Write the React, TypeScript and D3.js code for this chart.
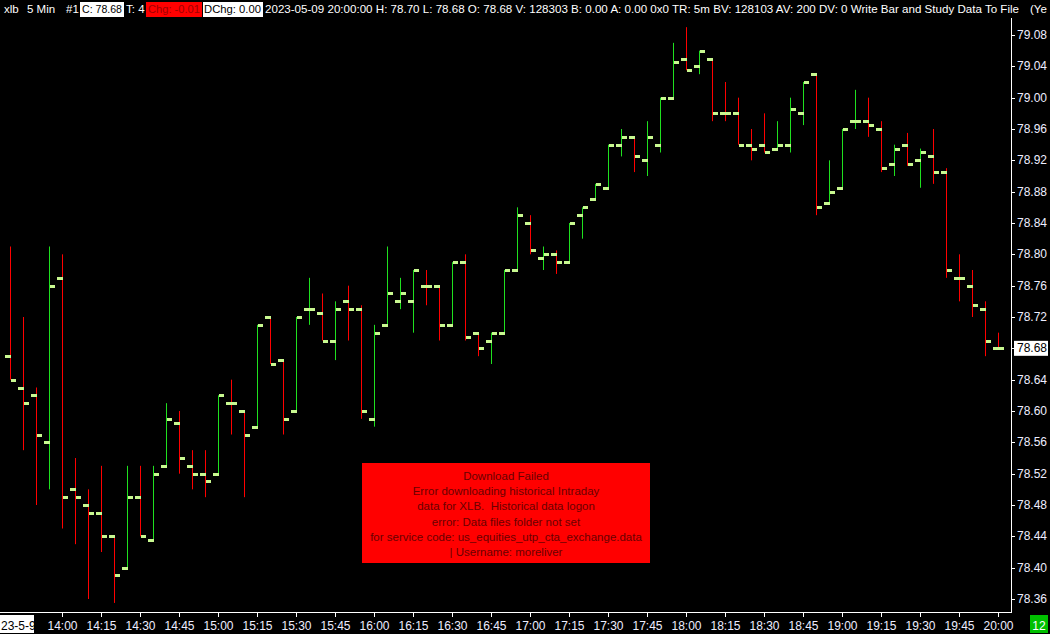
import * as d3 from "d3";

// 5 min bars, xlb, 2023-05-09
const times = [
  "13:40", "13:45", "13:50", "13:55",
  "14:00", "14:05", "14:10", "14:15", "14:20", "14:25", "14:30", "14:35", "14:40", "14:45", "14:50", "14:55",
  "15:00", "15:05", "15:10", "15:15", "15:20", "15:25", "15:30", "15:35", "15:40", "15:45", "15:50", "15:55",
  "16:00", "16:05", "16:10", "16:15", "16:20", "16:25", "16:30", "16:35", "16:40", "16:45", "16:50", "16:55",
  "17:00", "17:05", "17:10", "17:15", "17:20", "17:25", "17:30", "17:35", "17:40", "17:45", "17:50", "17:55",
  "18:00", "18:05", "18:10", "18:15", "18:20", "18:25", "18:30", "18:35", "18:40", "18:45", "18:50", "18:55",
  "19:00", "19:05", "19:10", "19:15", "19:20", "19:25", "19:30", "19:35", "19:40", "19:45", "19:50", "19:55",
  "20:00",
];

const opens = [
  78.67, 78.63, 78.62, 78.56, 78.77, 78.5, 78.48, 78.47, 78.44, 78.4, 78.49, 78.435, 78.53, 78.585, 78.53, 78.52,
  78.52, 78.61, 78.6, 78.58, 78.72, 78.665, 78.6, 78.73, 78.725, 78.69, 78.74, 78.73, 78.59, 78.71, 78.74, 78.74,
  78.76, 78.76, 78.71, 78.79, 78.7, 78.69, 78.7, 78.78, 78.84, 78.795, 78.8, 78.79, 78.85, 78.87, 78.885, 78.94,
  78.95, 78.92, 78.94, 79.0, 79.05, 79.04, 79.05, 78.98, 78.98, 78.94, 78.94, 78.935, 78.94, 78.98, 79.03, 78.865,
  78.885, 78.97, 78.97, 78.96, 78.915, 78.94, 78.92, 78.925, 78.905, 78.77, 78.76, 78.73, 78.68,
];
const highs = [
  78.81, 78.72, 78.63, 78.81, 78.8, 78.54, 78.5, 78.53, 78.44, 78.53, 78.53, 78.53, 78.61, 78.6, 78.55, 78.55,
  78.62, 78.64, 78.6, 78.71, 78.72, 78.665, 78.72, 78.77, 78.75, 78.74, 78.76, 78.735, 78.71, 78.81, 78.77, 78.78,
  78.78, 78.76, 78.79, 78.8, 78.7, 78.7, 78.78, 78.86, 78.85, 78.81, 78.805, 78.84, 78.86, 78.89, 78.94, 78.96,
  78.95, 78.97, 79.0, 79.07, 79.09, 79.06, 79.05, 79.02, 79.0, 78.96, 78.98, 78.97, 79.0, 79.02, 79.03, 78.92,
  78.96, 79.01, 79.0, 78.97, 78.94, 78.955, 78.935, 78.96, 78.91, 78.8, 78.78, 78.74, 78.7,
];
const lows = [
  78.64, 78.55, 78.48, 78.5, 78.45, 78.43, 78.36, 78.42, 78.355, 78.4, 78.44, 78.435, 78.53, 78.52, 78.5, 78.49,
  78.52, 78.57, 78.49, 78.58, 78.66, 78.57, 78.6, 78.71, 78.69, 78.665, 78.69, 78.59, 78.58, 78.71, 78.73, 78.7,
  78.735, 78.69, 78.71, 78.69, 78.67, 78.66, 78.7, 78.78, 78.8, 78.78, 78.775, 78.79, 78.82, 78.87, 78.885, 78.925,
  78.905, 78.9, 78.93, 79.0, 79.035, 79.03, 78.97, 78.97, 78.94, 78.92, 78.93, 78.935, 78.93, 78.965, 78.85, 78.865,
  78.885, 78.96, 78.95, 78.905, 78.9, 78.913, 78.885, 78.89, 78.77, 78.74, 78.72, 78.67, 78.68,
];
const closes = [
  78.64, 78.61, 78.57, 78.76, 78.49, 78.49, 78.47, 78.44, 78.39, 78.49, 78.44, 78.52, 78.59, 78.54, 78.52, 78.51,
  78.62, 78.61, 78.57, 78.71, 78.66, 78.59, 78.72, 78.73, 78.69, 78.73, 78.73, 78.6, 78.7, 78.75, 78.75, 78.78,
  78.76, 78.71, 78.79, 78.695, 78.68, 78.7, 78.78, 78.85, 78.805, 78.8, 78.79, 78.84, 78.86, 78.89, 78.94, 78.95,
  78.925, 78.95, 79.0, 79.045, 79.035, 79.06, 78.98, 78.98, 78.94, 78.935, 78.93, 78.94, 78.985, 79.02, 78.86, 78.88,
  78.96, 78.97, 78.965, 78.91, 78.935, 78.915, 78.93, 78.905, 78.78, 78.77, 78.735, 78.69, 78.68,
];

const timeLabels = [
  "14:00", "14:15", "14:30", "14:45", "15:00", "15:15", "15:30", "15:45", "16:00", "16:15", "16:30", "16:45",
  "17:00", "17:15", "17:30", "17:45", "18:00", "18:15", "18:30", "18:45", "19:00", "19:15", "19:30", "19:45", "20:00",
];
const priceTicks = [
  78.36, 78.4, 78.44, 78.48, 78.52, 78.56, 78.6, 78.64, 78.68, 78.72, 78.76, 78.8, 78.84, 78.88, 78.92, 78.96, 79.0, 79.04, 79.08,
];
const lastPrice = 78.68;

const errorLines = [
  "Download Failed",
  "Error downloading historical Intraday",
  "data for XLB.  Historical data logon",
  "error: Data files folder not set",
  "for service code: us_equities_utp_cta_exchange.data",
  "| Username: moreliver",
];

const W = 1050;
const H = 634;
const UP = "#1fe01f";
const DOWN = "#ff0000";
const TICK = "#c8f890";
const FONT = "'Liberation Sans', Arial, sans-serif";
const NARROW = "'Liberation Sans Narrow', 'Liberation Sans', Arial, sans-serif";

export default function App() {
  const x = d3.scalePoint<string>().domain(times).range([10, 998]);
  const y = d3.scaleLinear().domain([78.36, 79.08]).range([599, 35]);

  const bars = times.map((t, i) => {
    const o = opens[i], c = closes[i];
    let up = c > o;
    if (c === o) up = i > 0 && c > closes[i - 1];
    return { t, o, h: highs[i], l: lows[i], c, up };
  });

  return (
    <>
      <style>{`body{margin:0;background:#000;}`}</style>
      <svg width={W} height={H} style={{ display: "block", background: "#000" }}>
        <rect width={W} height={H} fill="#000" />

        {/* header */}
        <g fontFamily={FONT} fontSize={11.5} fill="#fff">
          <text x={4} y={13}>xlb</text>
          <text x={27} y={13}>5 Min</text>
          <text x={66} y={13}>#1</text>
          <rect x={80} y={2} width={44} height={15} fill="#fff" />
          <text x={82} y={13} fill="#000" textLength={40} lengthAdjust="spacingAndGlyphs">C: 78.68</text>
          <text x={126} y={13}>T: 4</text>
          <rect x={146} y={2} width={56} height={15} fill="#ff0000" />
          <text x={148} y={13} fill="#a00000" textLength={52} lengthAdjust="spacingAndGlyphs">Chg: -0.01</text>
          <rect x={203} y={2} width={60} height={15} fill="#fff" />
          <text x={204} y={13} fill="#000" textLength={57} lengthAdjust="spacingAndGlyphs">DChg: 0.00</text>
          <text x={265} y={13} textLength={754} lengthAdjust="spacingAndGlyphs">
            2023-05-09 20:00:00 H: 78.70 L: 78.68 O: 78.68 V: 128303 B: 0.00 A: 0.00 0x0 TR: 5m BV: 128103 AV: 200 DV: 0 Write Bar and Study Data To File
          </text>
          <text x={1030} y={13}>(Ye</text>
        </g>

        {/* bars */}
        <g>
          {bars.map((b) => {
            const cx = x(b.t) as number;
            return (
              <g key={b.t}>
                <rect x={cx} y={y(b.h)} width={1} height={Math.max(1, y(b.l) - y(b.h))} fill={b.up ? UP : DOWN} />
                <rect x={cx - 5} y={Math.round(y(b.o)) - 1} width={6} height={3} fill={TICK} />
                <rect x={cx + 1} y={Math.round(y(b.c)) - 1} width={5} height={3} fill={TICK} />
              </g>
            );
          })}
        </g>

        {/* price axis */}
        <line x1={1011.5} x2={1011.5} y1={18} y2={612} stroke="#fff" />
        <g fontFamily={FONT} fontSize={12} fill="#eef">
          {priceTicks.map((p) => (
            <g key={p}>
              <line x1={1011} x2={1015} y1={Math.round(y(p)) + 0.5} y2={Math.round(y(p)) + 0.5} stroke="#fff" />
              {p !== lastPrice && (
                <text x={1017} y={y(p) + 4}>{p.toFixed(2)}</text>
              )}
            </g>
          ))}
          <rect x={1014} y={y(lastPrice) - 7.5} width={34} height={15} fill="#fff" />
          <text x={1017} y={y(lastPrice) + 4} fill="#000">{lastPrice.toFixed(2)}</text>
        </g>

        {/* time axis */}
        <line x1={0} x2={1012} y1={612.5} y2={612.5} stroke="#fff" />
        <g fontFamily={NARROW} fontSize={12} fill="#eef">
          {timeLabels.map((t) => {
            const cx = (x(t) as number) + 0.5;
            return (
              <g key={t}>
                <line x1={cx} x2={cx} y1={612} y2={617} stroke="#fff" />
                <text x={cx} y={630} textAnchor="middle">{t}</text>
              </g>
            );
          })}
          <rect x={0} y={615} width={34} height={18} fill="#fff" />
          <text x={1} y={630} fill="#000">23-5-9</text>
          <rect x={1030} y={615} width={18} height={18} fill="#00c000" />
          <text x={1039} y={630} textAnchor="middle" fill="#fff">12</text>
        </g>

        {/* error message */}
        <rect x={362} y={463} width={288} height={100} fill="#ff0000" />
        <g fontFamily={FONT} fontSize={11.5} fill="#6a0000" textAnchor="middle">
          {errorLines.map((s, i) => (
            <text key={i} x={506} y={480 + i * 15.2} style={{ whiteSpace: "pre" }}>{s}</text>
          ))}
        </g>
      </svg>
    </>
  );
}
